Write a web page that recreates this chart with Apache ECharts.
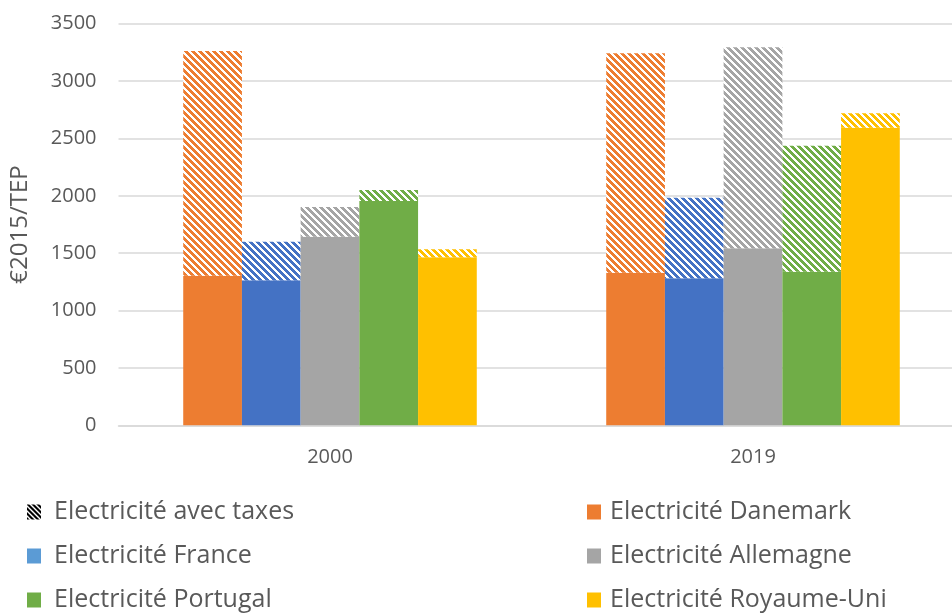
<!DOCTYPE html>
<html>
<head>
<meta charset="utf-8">
<script src="https://cdn.jsdelivr.net/npm/echarts@6/dist/echarts.min.js"></script>
<style>
  html, body { margin: 0; padding: 0; background: #fff; overflow: hidden; }
  #chart { width: 965px; height: 615px; }
</style>
</head>
<body>
<div id="chart"></div>
<script>
// Prix de l'électricité (€2015/TEP), hors taxes et avec taxes
const categories = ['2000', '2019'];
const countries = ['Danemark', 'France', 'Allemagne', 'Portugal', 'Royaume-Uni'];
const colors = ['#ED7D31', '#4472C4', '#A5A5A5', '#70AD47', '#FFC000'];
const legendColors = ['#ED7D31', '#5B9BD5', '#A5A5A5', '#70AD47', '#FFC000'];

// Prix hors taxes (partie pleine) et prix avec taxes (sommet hachuré)
const horsTaxes2000 = [1304, 1264, 1644, 1955, 1464];
const avecTaxes2000 = [3262, 1600, 1903, 2051, 1534];
const horsTaxes2019 = [1330, 1281, 1543, 1339, 2594];
const avecTaxes2019 = [3242, 1984, 3295, 2437, 2719];

const yTicks = [0, 500, 1000, 1500, 2000, 2500, 3000, 3500];
const TAX_NAME = 'Electricité avec taxes';

// Motif hachuré en diagonale descendante
function hatch(color, size, band) {
  const c = document.createElement('canvas');
  c.width = size; c.height = size;
  const g = c.getContext('2d');
  g.fillStyle = '#ffffff';
  g.fillRect(0, 0, size, size);
  g.fillStyle = color;
  for (let y = 0; y < size; y++) {
    for (let x = 0; x < size; x++) {
      if ((((x - y) % size) + size) % size < band) g.fillRect(x, y, 1, 1);
    }
  }
  return { image: c, repeat: 'repeat' };
}

const series = [];
countries.forEach((name, i) => {
  const base = [horsTaxes2000[i], horsTaxes2019[i]];
  const taxes = [avecTaxes2000[i] - horsTaxes2000[i], avecTaxes2019[i] - horsTaxes2019[i]];
  series.push({
    name: 'Electricité ' + name,
    type: 'bar',
    stack: name,
    barGap: '0%',
    barCategoryGap: '30.6%',
    itemStyle: { color: colors[i] },
    emphasis: { disabled: true },
    data: base
  });
  series.push({
    name: TAX_NAME,
    type: 'bar',
    stack: name,
    barGap: '0%',
    barCategoryGap: '30.6%',
    itemStyle: { color: hatch(colors[i], 7, 4) },
    emphasis: { disabled: true },
    data: taxes
  });
});

// Légende sur deux colonnes, trois lignes
const legendRows = [497, 541, 585];
function legendEntry(item, left, top, gap) {
  return {
    orient: 'horizontal', left: left, top: top, padding: 0,
    itemWidth: 14, itemHeight: 15, icon: 'rect', selectedMode: false,
    textStyle: {
      fontFamily: 'Open Sans', fontSize: 25, color: '#595959',
      lineHeight: 30, padding: [0, 0, 0, gap]
    },
    data: [item]
  };
}
const legends = [
  legendEntry({ name: TAX_NAME, itemStyle: { color: hatch('#000000', 5, 3) } }, 27, legendRows[0], 8),
  legendEntry({ name: 'Electricité France', itemStyle: { color: legendColors[1] } }, 27, legendRows[1], 8),
  legendEntry({ name: 'Electricité Portugal', itemStyle: { color: legendColors[3] } }, 27, legendRows[2], 8),
  legendEntry({ name: 'Electricité Danemark', itemStyle: { color: legendColors[0] } }, 587, legendRows[0], 4),
  legendEntry({ name: 'Electricité Allemagne', itemStyle: { color: legendColors[2] } }, 587, legendRows[1], 4),
  legendEntry({ name: 'Electricité Royaume-Uni', itemStyle: { color: legendColors[4] } }, 587, legendRows[2], 4)
];

const chart = echarts.init(document.getElementById('chart'), null, { renderer: 'canvas' });
chart.setOption({
  animation: false,
  backgroundColor: '#ffffff',
  grid: { left: 118.5, right: 0.5, top: 23.7, bottom: 189.7, containLabel: false },
  xAxis: {
    type: 'category',
    data: categories,
    axisLine: { show: true, lineStyle: { color: '#d9d9d9', width: 1.5 } },
    axisTick: { show: false },
    axisLabel: { fontFamily: 'Open Sans', fontSize: 20, color: '#595959', margin: 22 }
  },
  yAxis: {
    type: 'value',
    min: yTicks[0],
    max: yTicks[yTicks.length - 1],
    interval: 500,
    name: '€2015/TEP',
    nameLocation: 'middle',
    nameGap: 86,
    nameRotate: 90,
    nameTextStyle: { fontFamily: 'Open Sans', fontSize: 24, color: '#595959' },
    axisLine: { show: false },
    axisTick: { show: false },
    axisLabel: {
      fontFamily: 'Open Sans', fontSize: 20, color: '#595959', margin: 22,
      formatter: (v) => String(v)
    },
    splitLine: { lineStyle: { color: '#d9d9d9', width: 1.5 } }
  },
  legend: legends,
  series: series
});
</script>
</body>
</html>
